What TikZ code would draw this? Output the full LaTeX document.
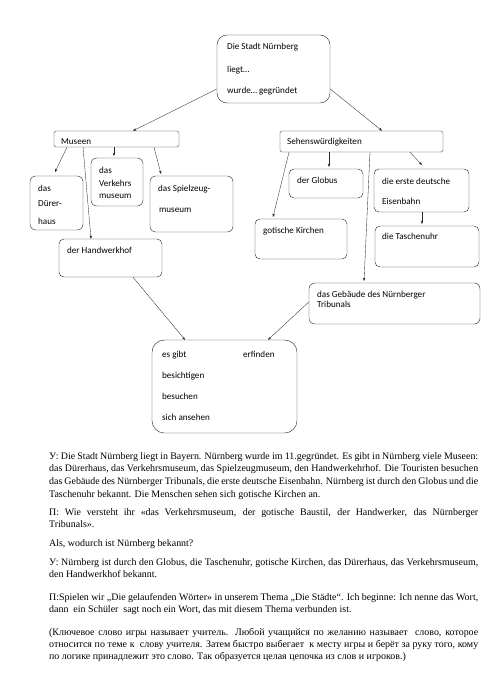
\documentclass[tikz,border=0pt]{standalone}
\usepackage{fontspec}
\setmainfont{Liberation Serif}
\newfontfamily\boxfont{Carlito}
\usetikzlibrary{arrows.meta,fit}

\begin{document}
\begin{tikzpicture}[x=0.042424cm, y=-0.042424cm,
    box/.style={draw=black!85, line width=0.5pt, inner sep=0pt, rounded corners=5pt},
    lbl/.style={font=\boxfont\fontsize{11}{13}\selectfont, anchor=base west, inner sep=0pt},
    arr/.style={draw=black!85, line width=0.4pt, -{Stealth[length=4pt,width=3pt]}},
    para/.style={anchor=base west, inner sep=0pt, text width=18.2cm, align=justify,
      font=\fontsize{12}{15.6}\selectfont}]
  \useasboundingbox (0,0) rectangle (495,700);

  \node[box, rounded corners=12pt, fit={(217,35) (330,103)}] (stadt) {};
  \node[lbl] (stadt1) at (227,50) {Die Stadt Nürnberg};
  \node[lbl] (stadt2) at (227,72) {liegt…};
  \node[lbl] (stadt3) at (227,93) {wurde… gegründet};

  \node[box, rounded corners=2pt, fit={(54,131) (179,147)}] (museen) {};
  \node[lbl] (museen1) at (61,144) {Museen};
  \node[box, rounded corners=2pt, fit={(280,131) (443,152)}] (sehens) {};
  \node[lbl] (sehens1) at (287,144) {Sehenswürdigkeiten};

  \node[box, rounded corners=7pt, fit={(30,176) (83,230)}] (duerer) {};
  \node[lbl] (duerer1) at (38,191) {das};
  \node[lbl] (duerer2) at (38,206) {Dürer-};
  \node[lbl] (duerer3) at (38,224) {haus};

  \node[box, rounded corners=7pt, fit={(91,158) (143,206)}] (verkehr) {};
  \node[lbl] (verkehr1) at (99,173.5) {das};
  \node[lbl] (verkehr2) at (99,186) {Verkehrs};
  \node[lbl] (verkehr3) at (99,198) {museum};

  \node[box, rounded corners=7pt, fit={(150,176) (233,232)}] (spiel) {};
  \node[lbl] (spiel1) at (158,191) {das Spielzeug-};
  \node[lbl] (spiel2) at (159,212.5) {museum};

  \node[box, rounded corners=6pt, fit={(59,239) (162,277)}] (handwerk) {};
  \node[lbl] (handwerk1) at (67,253.5) {der Handwerkhof};

  \node[box, rounded corners=6pt, fit={(289,169) (363,198)}] (globus) {};
  \node[lbl] (globus1) at (297,183.5) {der Globus};

  \node[box, rounded corners=6pt, fit={(374,169) (469,212)}] (bahn) {};
  \node[lbl] (bahn1) at (382,184) {die erste deutsche};
  \node[lbl] (bahn2) at (382,204.5) {Eisenbahn};

  \node[box, rounded corners=6pt, fit={(375,226) (479,267)}] (uhr) {};
  \node[lbl] (uhr1) at (382,239.5) {die Taschenuhr};

  \node[box, rounded corners=6pt, fit={(255,219) (347,259)}] (kirchen) {};
  \node[lbl] (kirchen1) at (263,233.5) {gotische Kirchen};

  \node[box, rounded corners=7pt, fit={(309,283) (480,324)}] (tribunal) {};
  \node[lbl] (tribunal1) at (317,297) {das Gebäude des Nürnberger};
  \node[lbl] (tribunal2) at (317,307.5) {Tribunals};

  \node[box, rounded corners=15pt, fit={(152,340) (297,433)}] (verben) {};
  \node[lbl] (verben1) at (162,357.5) {es gibt};
  \node[lbl] (verben2) at (243,357.5) {erfinden};
  \node[lbl] (verben3) at (162,378.5) {besichtigen};
  \node[lbl] (verben4) at (162,399.5) {besuchen};
  \node[lbl] (verben5) at (162,420) {sich ansehen};

  \draw[arr] (stadt.west |- 0,89) -- (museen.north -| 133,0);
  \draw[arr] (stadt.east |- 0,89) -- (sehens.north -| 382,0);
  \draw[arr] (museen.south -| 67,0) -- (55,172);
  \draw[arr] (museen.south -| 114,0) -- (114,156);
  \draw[arr] (museen.south -| 154,0) -- (161,174);
  \draw[arr] (museen.south -| 83,0) -- (handwerk.north -| 91,0);
  \draw[arr] (sehens.south -| 329,0) -- (329,167);
  \draw[arr] (sehens.south -| 410,0) -- (422,165);
  \draw[arr] (sehens.south -| 289,0) -- (273,217);
  \draw[arr] (sehens.south -| 370,0) -- (364,281);
  \draw[arr] (bahn.south -| 422,0) -- (422,224);
  \draw[arr] (handwerk.south -| 133,0) -- (verben.north -| 185,0);
  \draw[arr] (tribunal.west |- 0,302) -- (verben.north -| 268,0);

  \node[para] (p1) at (49,459) {У: Die Stadt Nürnberg liegt in Bayern. Nürnberg wurde im 11.gegründet. Es gibt in Nürnberg viele Museen:\linebreak
    das Dürerhaus, das Verkehrsmuseum, das Spielzeugmuseum, den Handwerkehrhof. Die Touristen besuchen\linebreak
    das Gebäude des Nürnberger Tribunals, die erste deutsche Eisenbahn. Nürnberg ist durch den Globus und die\linebreak
    Taschenuhr bekannt. Die Menschen sehen sich gotische Kirchen an.};
  \node[para] (p2) at (49,515) {П: Wie versteht ihr «das Verkehrsmuseum, der gotische Baustil, der Handwerker, das Nürnberger\linebreak
    Tribunals».};
  \node[para] (p3) at (49,546.5) {Als, wodurch ist Nürnberg bekannt?};
  \node[para] (p4) at (49,565) {У: Nürnberg ist durch den Globus, die Taschenuhr, gotische Kirchen, das Dürerhaus, das Verkehrsmuseum,\linebreak
    den Handwerkhof bekannt.};
  \node[para] (p5) at (49,600) {П:Spielen wir „Die gelaufenden Wörter» in unserem Thema „Die Städte“. Ich beginne: Ich nenne das Wort,\linebreak
    dann~ ein Schüler~ sagt noch ein Wort, das mit diesem Thema verbunden ist.};
  \node[para, font=\fontsize{12}{15}\selectfont] (p6) at (49,635) {(Ключевое слово игры называет учитель. Любой учащийся по желанию называет~ слово, которое\linebreak
    относится по теме к~ слову учителя. Затем быстро выбегает~ к месту игры и берёт за руку того, кому\linebreak
    по логике принадлежит это слово. Так образуется целая цепочка из слов и игроков.)};
\end{tikzpicture}
\end{document}
